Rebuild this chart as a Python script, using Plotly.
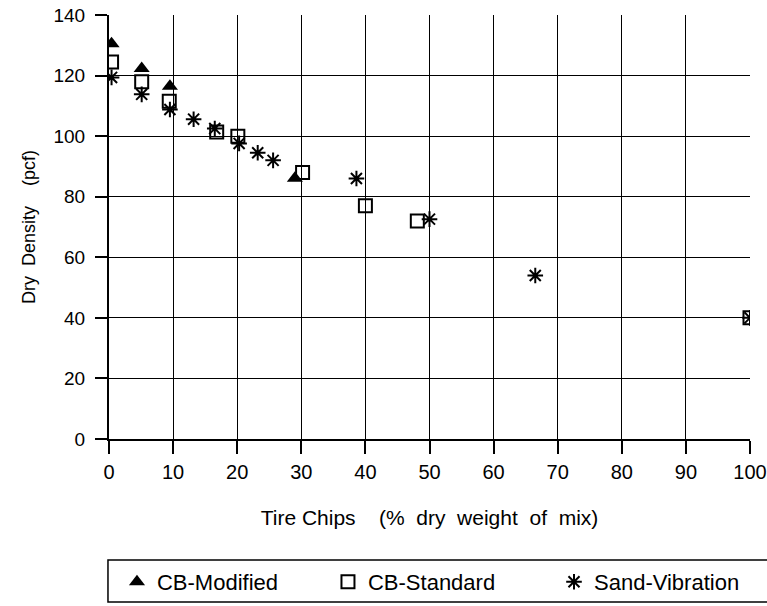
import plotly.graph_objects as go

# CB-Modified (triangles)
mod_x = [0.4, 5.1, 9.5, 29.0]
mod_y = [130.5, 122.3, 116.5, 86.1]

# CB-Standard (open squares)
std_x = [0.4, 5.1, 9.4, 16.8, 20.1, 30.2, 40.0, 48.1, 100.0]
std_y = [124.5, 118.0, 111.5, 101.4, 100.0, 88.0, 77.0, 72.0, 40.0]

# Sand-Vibration (asterisks)
sand_x = [0.4, 5.1, 9.5, 13.2, 16.5, 20.3, 23.2, 25.6, 38.6, 50.0, 66.5, 100.0]
sand_y = [119.4, 113.8, 108.8, 105.6, 102.5, 97.6, 94.5, 92.0, 86.0, 72.6, 54.0, 40.0]

x_ticks = [0, 10, 20, 30, 40, 50, 60, 70, 80, 90, 100]
y_ticks = [0, 20, 40, 60, 80, 100, 120, 140]

FONT = "Liberation Sans, Arial, Helvetica, sans-serif"
NB = "\u00a0"

fig = go.Figure()
fig.add_trace(go.Scatter(x=mod_x, y=mod_y, mode="markers", name="CB-Modified",
                         legend="legend",
                         marker=dict(symbol="triangle-up", size=14, color="black")))
fig.add_trace(go.Scatter(x=std_x, y=std_y, mode="markers", name="CB-Standard",
                         legend="legend2",
                         marker=dict(symbol="square-open", size=13, color="black",
                                     line=dict(width=2, color="black"))))
fig.add_trace(go.Scatter(x=sand_x, y=sand_y, mode="markers", name="Sand-Vibration",
                         legend="legend3",
                         marker=dict(symbol="asterisk-open", size=13, color="black",
                                     line=dict(width=2, color="black"))))

leg_common = dict(orientation="h", xref="container", yref="container",
                  xanchor="left", y=0.0743, yanchor="top",
                  bgcolor="rgba(0,0,0,0)", borderwidth=0,
                  font=dict(family=FONT, size=22, color="black"), itemwidth=30)

x_title = ("Tire" + NB + "Chips" + NB * 4 + "(%" + NB * 2 + "dry" + NB * 2 + "weight"
           + NB * 2 + "of" + NB * 2 + "mix)")
y_title = "Dry" + NB * 2 + "Density" + NB * 4 + "(pcf)"

fig.update_layout(
    width=767, height=606,
    margin=dict(l=109, r=17, t=15, b=167, autoexpand=False),
    paper_bgcolor="white", plot_bgcolor="white",
    font=dict(family=FONT, size=18, color="black"),
    showlegend=True,
    legend=dict(leg_common, x=0.1525),
    legend2=dict(leg_common, x=0.4276),
    legend3=dict(leg_common, x=0.7223),
    xaxis=dict(range=[0, 100], tickvals=x_ticks, ticktext=[str(v) for v in x_ticks],
               showgrid=True, gridcolor="black", gridwidth=1.3,
               showline=True, linecolor="black", linewidth=2, mirror=False,
               ticks="outside", ticklen=13, tickwidth=1.5, tickcolor="black",
               ticklabelstandoff=1, ticklabeloverflow="allow",
               zeroline=False, automargin=False,
               tickfont=dict(size=20),
               title=dict(text=x_title, standoff=28,
                          font=dict(size=21))),
    yaxis=dict(range=[0, 140], tickvals=y_ticks,
               showgrid=True, gridcolor="black", gridwidth=1.3,
               showline=True, linecolor="black", linewidth=2,
               ticks="outside", ticklen=12, tickwidth=1.5, tickcolor="black",
               ticklabelstandoff=6, ticklabeloverflow="allow",
               zeroline=False, automargin=False,
               tickfont=dict(size=19),
               title=dict(text=y_title, standoff=13,
                          font=dict(size=18))),
    shapes=[dict(type="rect", xref="paper", yref="paper",
                 x0=-0.0016, x1=1.05, y0=-0.3844, y1=-0.2854,
                 line=dict(color="black", width=1.5), fillcolor="rgba(0,0,0,0)")],
)

fig.write_html("out.html",
               config={"displayModeBar": False},
               post_script="document.body.style.margin='0px';document.body.style.overflow='hidden';")
